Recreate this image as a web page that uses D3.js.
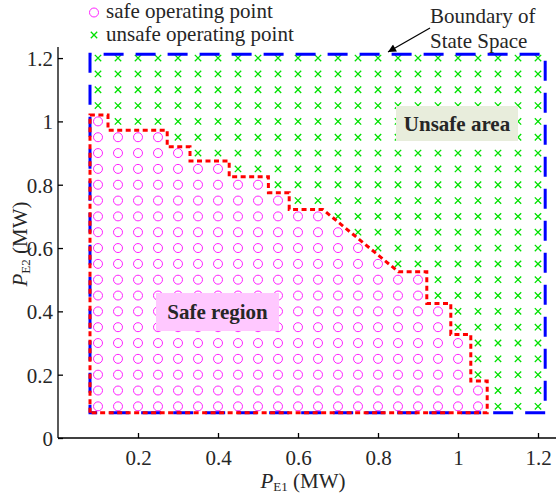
<!DOCTYPE html>
<html>
<head>
<meta charset="utf-8">
<script src="https://cdn.jsdelivr.net/npm/d3@7"></script>
<style>
  html, body { margin: 0; padding: 0; background: #fff; }
  svg { display: block; }
  text { font-family: "Liberation Serif", "Times New Roman", serif; fill: #262626; }
</style>
</head>
<body>
<svg id="chart" width="556" height="497"></svg>
<script>
// ---------- data ----------
const xGrid = [0.1,0.15,0.2,0.25,0.3,0.35,0.4,0.45,0.5,0.55,0.6,0.65,0.7,0.75,0.8,0.85,0.9,0.95,1.0,1.05,1.1,1.15,1.2];
const yGrid = [0.1,0.15,0.2,0.25,0.3,0.35,0.4,0.45,0.5,0.55,0.6,0.65,0.7,0.75,0.8,0.85,0.9,0.95,1.0,1.05,1.1,1.15,1.2];
// largest safe P_E1 for each row of yGrid (null = no safe point in that row)
const safeMaxX = [1.05,1.05,1.0,1.0,1.0,0.95,0.95,0.9,0.9,0.8,0.75,0.7,0.65,0.55,0.5,0.4,0.3,0.25,0.1,null,null,null,null];
// safe region boundary (red)
const boundaryX = [0.08,0.08,0.125,0.125,0.273,0.273,0.33,0.33,0.428,0.428,0.526,0.526,0.578,0.578,0.662,0.851,0.922,0.922,0.982,0.982,1.032,1.032,1.073,1.073,0.08];
const boundaryY = [0.08,1.02,1.02,0.972,0.972,0.92,0.92,0.875,0.875,0.825,0.825,0.775,0.775,0.722,0.722,0.525,0.525,0.425,0.425,0.327,0.327,0.18,0.18,0.08,0.08];
// state space boundary (blue)
const spaceX = [0.08,1.218];
const spaceY = [0.08,1.212];
const xTicks = [0.2,0.4,0.6,0.8,1.0,1.2];
const xTickLabels = ["0.2","0.4","0.6","0.8","1","1.2"];
const yTicks = [0,0.2,0.4,0.6,0.8,1.0,1.2];
const yTickLabels = ["0","0.2","0.4","0.6","0.8","1","1.2"];
const legendLabels = ["safe operating point","unsafe operating point"];

// ---------- build points ----------
const points = [];
yGrid.forEach((yv, i) => {
  xGrid.forEach(xv => {
    const lim = safeMaxX[i];
    points.push({x: xv, y: yv, safe: lim !== null && xv <= lim + 1e-9});
  });
});

const svg = d3.select("#chart");
const x = d3.scaleLinear().domain([0, 1.245]).range([58, 556]);
const y = d3.scaleLinear().domain([0, 1.235]).range([438, 47]);

const magenta = "#ff22ff", green = "#00e000";
const FS = 21;

// points
const gp = svg.append("g");
gp.selectAll("circle").data(points.filter(d => d.safe)).join("circle")
  .attr("cx", d => x(d.x)).attr("cy", d => y(d.y)).attr("r", 4.5)
  .attr("fill", "none").attr("stroke", magenta).attr("stroke-width", 1);
const cs = 3.2;
gp.selectAll("path.x").data(points.filter(d => !d.safe)).join("path")
  .attr("class", "x")
  .attr("d", d => { const cx = x(d.x), cy = y(d.y);
    return `M${cx-cs},${cy-cs}L${cx+cs},${cy+cs}M${cx-cs},${cy+cs}L${cx+cs},${cy-cs}`; })
  .attr("stroke", green).attr("stroke-width", 1.3).attr("fill", "none");

// blue state-space boundary
const bx0 = x(spaceX[0]), bx1 = x(spaceX[1]), by0 = y(spaceY[0]), by1 = y(spaceY[1]);
svg.append("path")
  .attr("d", `M${bx0},${by0}L${bx0},${by1}L${bx1},${by1}L${bx1},${by0}Z`)
  .attr("fill", "none").attr("stroke", "#0000ff").attr("stroke-width", 3)
  .attr("stroke-dasharray", "20,12").attr("stroke-dashoffset", 12);

// red safe boundary
const line = d3.line().x(d => x(d[0])).y(d => y(d[1]));
svg.append("path")
  .attr("d", line(boundaryX.map((v, i) => [v, boundaryY[i]])))
  .attr("fill", "none").attr("stroke", "#ff0000").attr("stroke-width", 3)
  .attr("stroke-dasharray", "5,3.5");

// axes
const xAxis = d3.axisBottom(x).tickValues(xTicks).tickSize(-5).tickFormat((d, i) => xTickLabels[i]);
const gx = svg.append("g").attr("transform", `translate(0,438)`).call(xAxis);
gx.select(".domain").attr("d", `M58,0H556`).attr("stroke", "#000").attr("stroke-width", 1.3);
gx.selectAll(".tick line").attr("stroke", "#000").attr("stroke-width", 1.3);
gx.selectAll(".tick text").attr("y", 27).attr("dy", 0).attr("font-size", FS).attr("fill", "#262626")
  .style("font-family", "'Liberation Serif', serif");

const yAxis = d3.axisLeft(y).tickValues(yTicks).tickSize(-5).tickFormat((d, i) => yTickLabels[i]);
const gy = svg.append("g").attr("transform", `translate(58,0)`).call(yAxis);
gy.select(".domain").attr("d", `M0,438V47`).attr("stroke", "#000").attr("stroke-width", 1.3);
gy.selectAll(".tick line").attr("stroke", "#000").attr("stroke-width", 1.3);
gy.selectAll(".tick text").attr("x", -5).attr("dy", "0.35em").attr("font-size", FS).attr("fill", "#262626")
  .style("font-family", "'Liberation Serif', serif");

// axis labels
const xl = svg.append("text").attr("x", 303).attr("y", 488).attr("text-anchor", "middle").attr("font-size", FS);
xl.append("tspan").attr("font-style", "italic").text("P");
xl.append("tspan").attr("font-size", 13).attr("dy", 3).text("E1");
xl.append("tspan").attr("dy", -3).text(" (MW)");

const yl = svg.append("text").attr("transform", "translate(27,244) rotate(-90)").attr("text-anchor", "middle").attr("font-size", FS);
yl.append("tspan").attr("font-style", "italic").text("P");
yl.append("tspan").attr("font-size", 13).attr("dy", 3).text("E2");
yl.append("tspan").attr("dy", -3).text(" (MW)");

// legend
const lg = svg.append("g");
lg.append("circle").attr("cx", 94).attr("cy", 12.5).attr("r", 4.5)
  .attr("fill", "none").attr("stroke", magenta).attr("stroke-width", 1);
lg.append("path").attr("d", `M${94-cs},${35-cs}L${94+cs},${35+cs}M${94-cs},${35+cs}L${94+cs},${35-cs}`)
  .attr("stroke", green).attr("stroke-width", 1.3);
lg.selectAll("text").data(legendLabels).join("text")
  .attr("x", 106).attr("y", (d, i) => 18 + i * 23).attr("font-size", FS).text(d => d);

// region labels
svg.append("rect").attr("x", 156).attr("y", 293).attr("width", 123).attr("height", 38).attr("fill", "#ffc8ff");
svg.append("text").attr("x", 217.5).attr("y", 319).attr("text-anchor", "middle")
  .attr("font-size", FS).attr("font-weight", "bold").text("Safe region");
svg.append("rect").attr("x", 396).attr("y", 106).attr("width", 122).attr("height", 35).attr("fill", "#e8eddc");
svg.append("text").attr("x", 457).attr("y", 131).attr("text-anchor", "middle")
  .attr("font-size", FS).attr("font-weight", "bold").text("Unsafe area");

// annotation
svg.append("text").attr("x", 430).attr("y", 23).attr("font-size", FS).text("Boundary of");
svg.append("text").attr("x", 430).attr("y", 48).attr("font-size", FS).text("State Space");
svg.append("defs").append("marker").attr("id", "ah").attr("viewBox", "0 0 10 10")
  .attr("refX", 10).attr("refY", 5).attr("markerWidth", 10).attr("markerHeight", 8)
  .attr("markerUnits", "userSpaceOnUse").attr("orient", "auto")
  .append("path").attr("d", "M0,0L10,5L0,10Z").attr("fill", "#000");
svg.append("line").attr("x1", 430).attr("y1", 28).attr("x2", 388).attr("y2", 52)
  .attr("stroke", "#000").attr("stroke-width", 1.3).attr("marker-end", "url(#ah)");
</script>
</body>
</html>
